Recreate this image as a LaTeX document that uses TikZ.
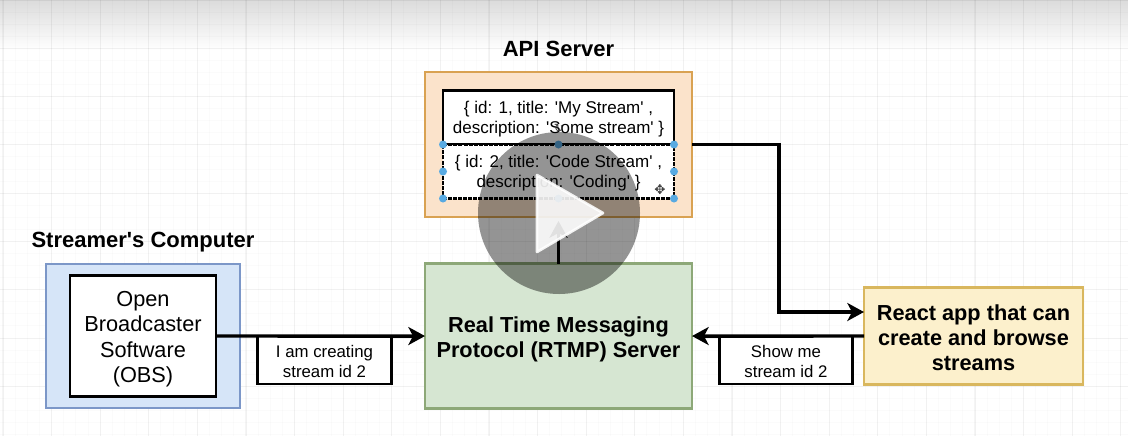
\documentclass[tikz,border=0pt]{standalone}
\usepackage{fontspec}
\setmainfont{Liberation Sans}[Ligatures=TeXOff]
\newfontfamily\symfont{DejaVu Sans}
\usepackage{xcolor}
\usetikzlibrary{arrows.meta,positioning}
\definecolor{bluefill}{RGB}{214,229,248}
\definecolor{blueline}{RGB}{124,151,200}
\definecolor{orangefill}{RGB}{251,227,203}
\definecolor{orangeline}{RGB}{217,162,82}
\definecolor{greenfill}{RGB}{214,230,210}
\definecolor{greenline}{RGB}{141,168,120}
\definecolor{yellowfill}{RGB}{252,240,204}
\definecolor{yellowline}{RGB}{217,183,94}
\definecolor{handleblue}{RGB}{88,170,226}
\newcommand{\topgap}[1]{\rule{0pt}{\dimexpr.73em+#1\relax}}
\begin{document}
\begin{tikzpicture}[x=0.75pt, y=-0.75pt,
    tier/.style={draw=#1line, fill=#1fill, line width=1.6pt, outer sep=0pt,
                 align=center, font=\fontsize{16.3}{18.75}\selectfont\bfseries},
    inner/.style={draw=black, fill=white, line width=2.2pt, outer sep=0pt,
                  align=center, inner sep=1pt},
    record/.style={inner, minimum width=173.25pt, minimum height=40.5pt,
                   font=\fontsize{12.75}{15}\selectfont},
    note/.style={inner, minimum width=100pt, minimum height=36pt,
                 font=\fontsize{12.6}{14.6}\selectfont},
    heading/.style={font=\fontsize{16.5}{19}\selectfont\bfseries, inner sep=0pt},
    arr/.style={-{Stealth[length=12.5pt,width=13.5pt,inset=3.5pt]}, line width=2.6pt, black},
    handle/.style={circle, fill=handleblue, inner sep=0pt, minimum size=6pt}
  ]
  \useasboundingbox (0,0) rectangle (1128,436);
  % canvas
  \shade[top color=black!14, bottom color=white, draw=none] (0,0) rectangle (1128,50);
  \foreach \gx in {0,...,93} {
    \draw[black, draw opacity=.015, line width=.7pt] ({3+12.15*\gx},0) -- ({3+12.15*\gx},436);
  }
  \foreach \gy in {0,...,36} {
    \draw[black, draw opacity=.015, line width=.7pt] (0,{12.07*\gy}) -- (1128,{12.07*\gy});
  }
  \foreach \gx in {0,...,23} {
    \draw[black, draw opacity=.04, line width=.8pt] ({3+48.6*\gx},0) -- ({3+48.6*\gx},436);
  }
  \foreach \gy in {0,...,8} {
    \draw[black, draw opacity=.04, line width=.8pt] (0,{48.3*\gy}) -- (1128,{48.3*\gy});
  }
  % boxes
  \node[tier=orange, minimum width=200.25pt, minimum height=108.75pt] (api) at (558.5,144.5) {};
  \node[tier=green, minimum width=200.25pt, minimum height=108.75pt, below=34.9pt of api]
    (rtmp) {\topgap{4.5pt}Real Time Messaging\\Protocol (RTMP) Server};
  \node[tier=blue, minimum width=145.5pt, minimum height=108pt] (streamer) at (143,336) {};
  \node[inner, minimum width=109.5pt, minimum height=90.75pt,
        font=\fontsize{16.3}{19}\selectfont] (obs) at (143,336)
    {\topgap{4pt}Open\\Broadcaster\\Software\\(OBS)};
  \node[tier=yellow, minimum width=164.25pt, minimum height=72.75pt] (react) at (973.5,336)
    {\topgap{3pt}React app that can\\create and browse\\streams};
  \node[record] (rec1) at (558.5,117.5) {\topgap{3pt}\{ id: 1, title: 'My Stream' ,\\description: 'Some stream' \}};
  \node[record, dash pattern=on 3pt off .8pt, below=0pt of rec1] (rec2)
    {\topgap{3pt}\{ id: 2, title: 'Code Stream' ,\\description: 'Coding' \}};
  \node[heading, above=11pt of api] (apititle) {API Server};
  \node[heading, above=8.5pt of streamer] (streamertitle) {Streamer's Computer};
  \node[note] (lab1) at (324.5,360) {\topgap{2pt}I am creating\\stream id 2};
  \node[note] (lab2) at (786,360) {\topgap{2pt}Show me\\stream id 2};
  % connectors
  \coordinate (turn) at (779,312);
  \draw[arr] (obs.east) -- (rtmp.west);
  \draw[arr] (react.west) -- (rtmp.east);
  \draw[arr] (api.east) -| (turn) -- (turn -| react.west);
  \draw[arr, shorten >=3pt] (rtmp.north) -- (api.south);
  % editor selection
  \foreach \a [count=\i] in {north west,north,north east,west,east,south west,south,south east} {
    \node[handle] (h\i) at (rec2.\a) {};
  }
  \node[font=\symfont\fontsize{9}{9}\selectfont, inner sep=0pt, text=black!75] (rotater) at (559,128) {↻};
  \node[font=\symfont\fontsize{10}{10}\selectfont, inner sep=0pt, text=black!75] (mover) at (660,190) {✥};
  % player overlay
  \node[circle, fill=black, fill opacity=.42, minimum size=121.5pt, inner sep=0pt] (player) at (559,213) {};
  \coordinate (pa) at (537,175);
  \coordinate (pb) at (603,213);
  \coordinate (pc) at (537,252);
  \fill[white, fill opacity=.88, draw=white, draw opacity=.88, line width=2pt, line join=round] (pa) -- (pb) -- (pc) -- cycle;
\end{tikzpicture}
\end{document}
